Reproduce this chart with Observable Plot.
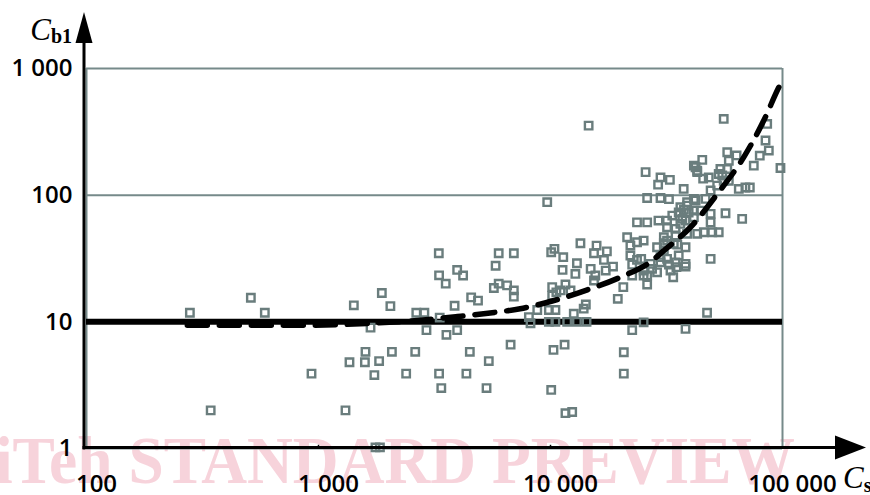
<!DOCTYPE html>
<html><head><meta charset="utf-8">
<script src="https://cdn.jsdelivr.net/npm/d3@7"></script>
<script src="https://cdn.jsdelivr.net/npm/@observablehq/plot@0.6"></script>
<style>body{margin:0;background:#fff}</style>
</head><body><div id="chart"></div>
<script>
// Axis ticks
const xTicks = [100, 1000, 10000, 100000];
const xTickLabels = ["100", "1 000", "10 000", "100 000"];
const yTicks = [1, 10, 100, 1000];
const yTickLabels = ["1", "10", "100", "1 000"];
const limitValue = [10];

// Scatter: Cs (x) and Cb1 (y)
const pointX = [
 279,511,587,343,933,1307,1420,1875,2041,1676,1594,1360,1585,1825,1741,2072,2387,2612,3309,3383,3309,3535,2640,2860,3330,2920,3560,1760,1840,
 3300,3960,4200,3860,4550,4870,5980,6950,5800,5700,5980,6500,6950,6950,3960,4490,5420,6730,4340,5300,10070,11600,12400,10300,11500,20700,20700,22500,25200,38200,
 8070,8200,8770,9840,10500,9840,10500,11800,13000,14300,12600,13900,14200,10170,10170,10600,11050,11600,12200,10070,10400,11350,11270,13460,13000,12800,14900,15600,
 15800,17500,15400,17000,18600,17300,15400,20600,19500,21400,22100,23600,25200,22100,23600,22500,25200,26100,27400,29800,32900,33800,38200,30800,35700,
 9680,29100,26100,29800,32400,37500,23600,26100,29200,
 14600,25700,29800,32700,22500,24600,25200,26100,27000,28800,28800,31800,34600,35200,32400,31800,33500,35700,37600,39400,41500,41500,42900,38800,42200,42900,
 29800,31800,34900,30800,31800,34600,36300,38200,38800,38200,
 55800,85900,84500,87300,79800,75200,98000,57800,63400,58700,54000,53100,55000,58700,57800,45100,42200,42900,45500,48100,64800,69200,72300,56800,67000,
 49000,46600,52300,55800,41500,38800,44400,41500,49000,36300,37000,30800,34000,38200,34600,49000,49800,53100,45800,49000,47300
];
const pointY = [
 11.8,15.5,11.8,2,3.9,2,13.5,16.9,13.3,9,5.8,4.8,4.8,4.9,3.8,5.8,3.9,5.8,3.9,3,23.3,20,11.8,11.8,10.8,8.6,7.9,1.02,1.02,
 34.8,25.7,23.2,13.4,15.6,14.7,34.8,34.8,27.7,18.5,20,19.4,17.7,15.8,8.6,5.8,4.9,6.6,3.9,3,2.9,1.9,1.94,6,6.6,5.75,3.9,8.6,9.9,8.8,
 10.9,9.75,12.4,12.4,12.4,10,10,10,10,10,11.6,12.7,13.7,18.8,16.1,17.1,17.7,19.7,17.7,35.4,37.7,32.4,25.7,41.7,29,23.9,26.2,23.2,
 40,36,34.8,30.8,27.3,25.4,21.2,18.8,15.2,46.5,40,42.5,43.8,33.4,30.8,23.2,23.2,19.7,26.2,29.5,25.4,22.5,27.3,41.7,33.4,
 88,121,95,95,93,112,61,61,63,
 354,152,138,132,28.3,31.4,25.4,23.2,28.7,24.6,38.8,43.8,48,40.7,28.3,63,69,73,76.6,73,75.5,171,156,88,90.6,49.5,
 32.4,31.4,27,36.5,55.8,54.2,59.3,63,49.5,38.8,
 400,365,270,225,205,171,164,218,206,187,161,147,143,130,161,190,166,152,135,138,112,115,115,72,65,
 109,93.5,119,130,93.5,82.8,75.5,67,71.2,80.3,65,46.5,41.3,28.7,29.5,61,51,51,51,31.4,11.8
];

// Dashed trend curve
const curveX = [272, 836, 1800, 2750, 3970, 5375, 7400, 10170, 14420, 20000, 27500, 30800, 40100, 52300, 68000, 83000, 96400, 99300];
const curveY = [9.4, 9.4, 9.8, 10.3, 11.0, 11.7, 12.7, 14.6, 17.9, 22.5, 30.5, 36.5, 55.8, 102, 199, 388, 710, 790];

const points = pointX.map((x, i) => ({x, y: pointY[i]}));
const curve = curveX.map((x, i) => ({x, y: curveY[i]}));

const gridColor = "#768a8a";
const dotColor = "#6a7d7d";
const labelFont = "'Open Sans', sans-serif";

const plot = Plot.plot({
  width: 870,
  height: 495,
  marginLeft: 86,
  marginRight: 88,
  marginTop: 68,
  marginBottom: 47,
  style: {background: "white", color: "black", fontFamily: labelFont, overflow: "visible"},
  x: {type: "log", domain: [100, 100000]},
  y: {type: "log", domain: [1, 1000]},
  marks: [
    Plot.ruleY(yTicks, {stroke: gridColor, strokeWidth: 2}),
    Plot.ruleX([xTicks[0], xTicks[3]], {stroke: gridColor, strokeWidth: 2}),
    Plot.ruleY(limitValue, {stroke: "black", strokeWidth: 6}),
    Plot.dot(points, {x: "x", y: "y", symbol: "square", r: 4.2, fill: "none", stroke: dotColor, strokeWidth: 2.4}),
    Plot.line(curve, {x: "x", y: "y", curve: "monotone-x", stroke: "black", strokeWidth: 5.5, strokeDasharray: "20,12"}),
    Plot.ruleX([xTicks[1], xTicks[2]], {y1: 1, y2: 1.06, stroke: "black", strokeWidth: 1.5}),
    Plot.axisX(xTicks, {tickSize: 0, tickPadding: 26, dx: 10, fontSize: 24, fontWeight: 600, label: null,
      tickFormat: d => xTickLabels[xTicks.indexOf(d)]}),
    Plot.axisY(yTicks, {tickSize: 0, tickPadding: 14, fontSize: 24, fontWeight: 600, label: null,
      tickFormat: d => yTickLabels[yTicks.indexOf(d)]})
  ]
});

document.getElementById("chart").appendChild(plot);

const svg = d3.select(plot);
const sx = plot.scale("x"), sy = plot.scale("y");
const pxLeft = sx.apply(100) - 2, pxRight = sx.apply(100000);
const pxBottom = sy.apply(1), pxTop = sy.apply(1000);

// watermark behind everything
svg.insert("text", ":first-child")
  .attr("x", -5).attr("y", pxBottom + 35)
  .attr("text-anchor", "start")
  .attr("font-family", "'Liberation Serif', serif")
  .attr("font-weight", "bold")
  .attr("font-size", 67)
  .attr("textLength", 800)
  .attr("lengthAdjust", "spacingAndGlyphs")
  .attr("fill", "#f7d3db")
  .text("iTeh STANDARD PREVIEW");

// axes with arrows
svg.append("line").attr("x1", pxLeft).attr("x2", pxLeft).attr("y1", pxBottom + 1.5).attr("y2", pxTop - 26)
  .attr("stroke", "black").attr("stroke-width", 3);
svg.append("path").attr("d", `M${pxLeft},${pxTop - 56}L${pxLeft - 8.5},${pxTop - 25}L${pxLeft + 8.5},${pxTop - 25}Z`).attr("fill", "black");
svg.append("line").attr("x1", pxLeft - 1.5).attr("x2", pxRight + 56).attr("y1", pxBottom - 0.5).attr("y2", pxBottom - 0.5)
  .attr("stroke", "black").attr("stroke-width", 3);
svg.append("path").attr("d", `M${pxRight + 84},${pxBottom - 0.5}L${pxRight + 53},${pxBottom - 12.5}L${pxRight + 53},${pxBottom + 11.5}Z`).attr("fill", "black");

// axis titles
const yt = svg.append("text").attr("x", pxLeft - 12).attr("y", pxTop - 28).attr("text-anchor", "end")
  .attr("font-family", "'Liberation Serif', serif").attr("fill", "black");
yt.append("tspan").attr("font-style", "italic").attr("font-size", 31).text("C");
yt.append("tspan").attr("font-weight", "bold").attr("font-size", 20).attr("dy", 3).text("b1");

const xt = svg.append("text").attr("x", pxRight + 61).attr("y", pxBottom + 40).attr("text-anchor", "start")
  .attr("font-family", "'Liberation Serif', serif").attr("fill", "black");
xt.append("tspan").attr("font-style", "italic").attr("font-size", 31).text("C");
xt.append("tspan").attr("font-weight", "bold").attr("font-size", 20).attr("dy", 4).text("s");
</script>
</body></html>
